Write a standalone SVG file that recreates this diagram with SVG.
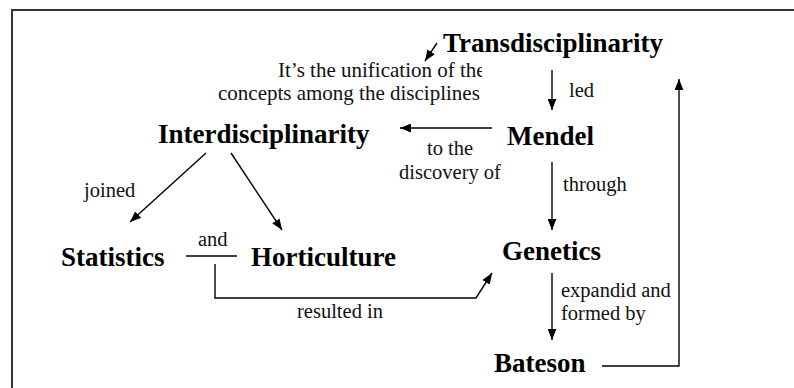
<svg xmlns="http://www.w3.org/2000/svg" width="794" height="388" viewBox="0 0 794 388">
<style>
.node{font-family:"Liberation Serif","Times New Roman",serif;font-weight:bold;font-size:27px;fill:#000}
.lbl{font-family:"Liberation Serif","Times New Roman",serif;font-size:20.5px;fill:#111}
.note{font-family:"Liberation Serif","Times New Roman",serif;font-size:21px;fill:#111}
.c{stroke:#000;stroke-width:1.4;fill:none}
.a{marker-end:url(#ah)}
</style>
<defs>
<marker id="ah" viewBox="0 0 10 8" refX="10" refY="4" markerWidth="11" markerHeight="9" markerUnits="userSpaceOnUse" orient="auto">
<path d="M0,0 L10,4 L0,8 z" fill="#000"/>
</marker>
<clipPath id="noteclip"><rect x="150" y="55" width="332" height="55"/></clipPath>
</defs>
<rect width="794" height="388" fill="#fff"/>
<path d="M12,388 L12,10 L794,10" fill="none" stroke="#333" stroke-width="2"/>
<g id="connectors">
<line class="c a" x1="437" y1="43" x2="425" y2="61"/>
<line class="c a" x1="552" y1="70" x2="552" y2="110"/>
<line class="c a" x1="492" y1="128" x2="400" y2="128"/>
<line class="c a" x1="552" y1="162" x2="552" y2="230"/>
<line class="c a" x1="552" y1="273" x2="552" y2="340"/>
<polyline class="c a" points="602,366 679,366 679,79"/>
<line class="c a" x1="206" y1="153" x2="130" y2="222"/>
<line class="c a" x1="231" y1="153" x2="282" y2="230"/>
<line class="c" x1="186" y1="256" x2="237" y2="256"/>
<polyline class="c a" points="215,264 215,298 476,298 492,273"/>
</g>
<g id="labels">
<text class="lbl" x="569" y="97">led</text>
<text class="lbl" x="450" y="155" text-anchor="middle">to the</text>
<text class="lbl" x="450" y="179" text-anchor="middle">discovery of</text>
<text class="lbl" x="563" y="191">through</text>
<text class="lbl" x="561" y="297">expandid and</text>
<text class="lbl" x="561" y="320">formed by</text>
<text class="lbl" x="84" y="197">joined</text>
<text class="lbl" x="198" y="246">and</text>
<text class="lbl" x="297" y="318">resulted in</text>
</g>
<g id="note" clip-path="url(#noteclip)">
<text class="note" x="278" y="77">It’s the unification of the</text>
<text class="note" x="218" y="100">concepts among the disciplines</text>
</g>
<g id="transdisciplinarity"><text class="node" x="443" y="52">Transdisciplinarity</text></g>
<g id="mendel"><text class="node" x="507" y="145">Mendel</text></g>
<g id="interdisciplinarity"><text class="node" x="158" y="143">Interdisciplinarity</text></g>
<g id="statistics"><text class="node" x="61" y="266">Statistics</text></g>
<g id="horticulture"><text class="node" x="251" y="266">Horticulture</text></g>
<g id="genetics"><text class="node" x="502" y="260">Genetics</text></g>
<g id="bateson"><text class="node" x="494" y="372">Bateson</text></g>
</svg>
